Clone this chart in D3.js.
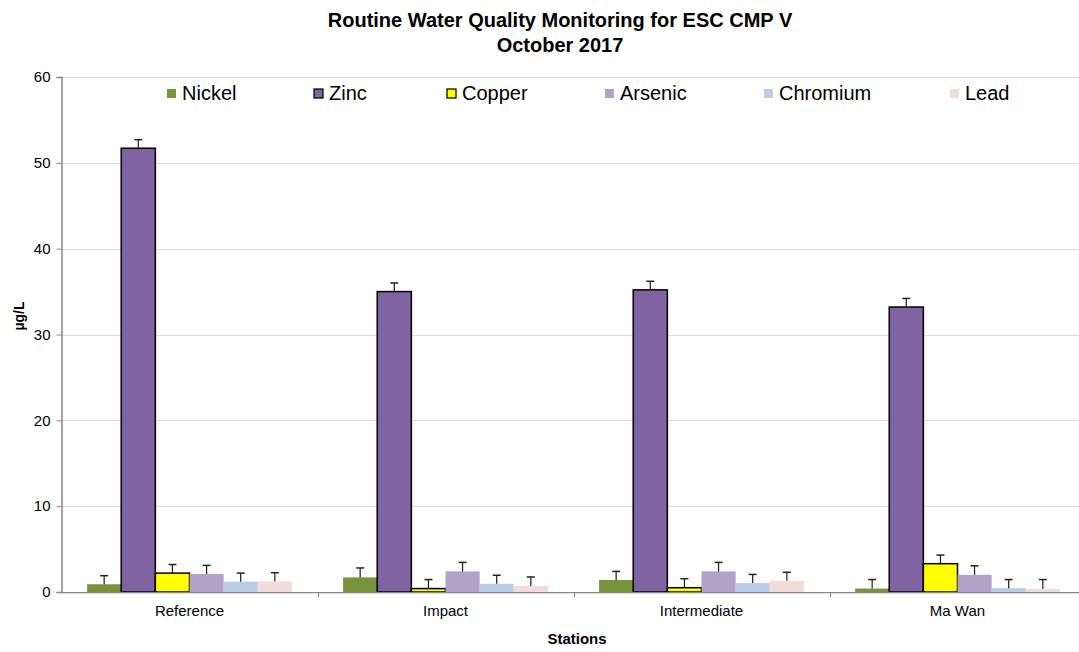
<!DOCTYPE html>
<html><head><meta charset="utf-8">
<script src="https://cdn.jsdelivr.net/npm/d3@7"></script>
<style>body{margin:0;background:#fff;}svg{display:block;font-family:"Liberation Sans",Arial,sans-serif;}</style>
</head><body>
<script>
const stations = ["Reference", "Impact", "Intermediate", "Ma Wan"];
const metals = ["Nickel", "Zinc", "Copper", "Arsenic", "Chromium", "Lead"];
const nickel   = [0.9, 1.7, 1.4, 0.4];
const zinc     = [51.7, 35.0, 35.2, 33.2];
const copper   = [2.2, 0.4, 0.5, 3.3];
const arsenic  = [2.1, 2.4, 2.4, 2.0];
const chromium = [1.2, 0.95, 1.05, 0.45];
const lead     = [1.25, 0.7, 1.3, 0.35];
const nickelErr   = [1.0, 1.1, 1.0, 1.05];
const zincErr     = [1.0, 1.0, 1.0, 1.0];
const copperErr   = [1.0, 1.05, 1.05, 1.0];
const arsenicErr  = [1.0, 1.05, 1.05, 1.05];
const chromiumErr = [1.0, 1.0, 1.0, 1.0];
const leadErr     = [1.0, 1.05, 1.0, 1.1];
const yTicks = [0, 10, 20, 30, 40, 50, 60];

const seriesValues = [nickel, zinc, copper, arsenic, chromium, lead];
const seriesErrors = [nickelErr, zincErr, copperErr, arsenicErr, chromiumErr, leadErr];
const fills = {Nickel:"#77933C", Zinc:"#8064A2", Copper:"#FFFF00", Arsenic:"#B3A2C7", Chromium:"#B9CDE5", Lead:"#F2DCDB"};
const outlined = {Zinc:true, Copper:true};

const W = 1079, H = 652;
const svg = d3.select("body").append("svg").attr("width", W).attr("height", H);

const y = d3.scaleLinear().domain([0, 60]).range([592, 77]);
const x0 = d3.scaleBand().domain(stations).range([61.5, 1085.5]).padding(0);
const x1 = d3.scaleBand().domain(metals).range([0, x0.bandwidth()]).paddingInner(0).paddingOuter(0.75);

// gridlines
svg.append("g").selectAll("line").data(yTicks.filter(d => d > 0)).join("line")
  .attr("x1", 61.5).attr("x2", W).attr("y1", d => Math.round(y(d)) + 0.5).attr("y2", d => Math.round(y(d)) + 0.5)
  .attr("stroke", "#D9D9D9").attr("stroke-width", 1);

// y axis
const yAxis = d3.axisLeft(y).tickValues(yTicks).tickSize(5).tickPadding(6).tickFormat(d3.format("d"));
const gy = svg.append("g").attr("transform", "translate(61.5,0)").call(yAxis);
gy.select(".domain").attr("stroke", "#868686").attr("stroke-width", 1.5);
gy.selectAll(".tick line").attr("stroke", "#868686");
gy.selectAll(".tick text").attr("font-size", 15).attr("fill", "#000").attr("font-family", "Liberation Sans, Arial, sans-serif");

// bars
const groups = svg.append("g").selectAll("g").data(stations).join("g")
  .attr("transform", d => `translate(${x0(d)},0)`);
metals.forEach((m, mi) => {
  groups.append("rect")
    .attr("x", (d, i) => x1(m))
    .attr("y", (d, i) => y(seriesValues[mi][i]))
    .attr("width", x1.bandwidth())
    .attr("height", (d, i) => y(0) - y(seriesValues[mi][i]))
    .attr("fill", fills[m])
    .attr("stroke", outlined[m] ? "#000" : "none")
    .attr("stroke-width", outlined[m] ? 1.5 : 0);
});
// error bars
metals.forEach((m, mi) => {
  groups.each(function(d, i) {
    const g = d3.select(this);
    const cx = x1(m) + x1.bandwidth() / 2;
    const v = seriesValues[mi][i], e = seriesErrors[mi][i];
    g.append("line").attr("x1", cx).attr("x2", cx).attr("y1", y(v)).attr("y2", y(v + e))
      .attr("stroke", "#222").attr("stroke-width", 1.25);
    g.append("line").attr("x1", cx - 4).attr("x2", cx + 4).attr("y1", y(v + e)).attr("y2", y(v + e))
      .attr("stroke", "#222").attr("stroke-width", 1.5);
  });
});

// x axis
const xAxisG = svg.append("g").attr("transform", "translate(0,592.5)");
xAxisG.append("line").attr("x1", 61.5).attr("x2", W).attr("y1", 0).attr("y2", 0).attr("stroke", "#868686").attr("stroke-width", 1.25);
xAxisG.selectAll(".tk").data(stations.slice(1)).join("line").attr("class", "tk")
  .attr("x1", d => Math.round(x0(d)) + 0.5).attr("x2", d => Math.round(x0(d)) + 0.5).attr("y1", 0).attr("y2", 5)
  .attr("stroke", "#868686");
xAxisG.selectAll("text").data(stations).join("text")
  .attr("x", d => x0(d) + x0.bandwidth() / 2).attr("y", 23)
  .attr("text-anchor", "middle").attr("font-size", 15).text(d => d);

// titles
svg.append("text").attr("x", 560).attr("y", 27).attr("text-anchor", "middle")
  .attr("font-size", 20).attr("font-weight", "bold").text("Routine Water Quality Monitoring for ESC CMP V");
svg.append("text").attr("x", 560).attr("y", 52).attr("text-anchor", "middle")
  .attr("font-size", 20).attr("font-weight", "bold").text("October 2017");
svg.append("text").attr("x", 577).attr("y", 644).attr("text-anchor", "middle")
  .attr("font-size", 15).attr("font-weight", "bold").text("Stations");
svg.append("text").attr("transform", "translate(24,316) rotate(-90)").attr("text-anchor", "middle")
  .attr("font-size", 14).attr("font-weight", "bold").text("µg/L");

// legend
const legendX = [167, 314, 447, 605, 764, 950];
const lg = svg.append("g").selectAll("g").data(metals).join("g")
  .attr("transform", (d, i) => `translate(${legendX[i]},89)`);
lg.append("rect").attr("x", 0).attr("y", 0).attr("width", 9).attr("height", 9)
  .attr("fill", d => fills[d]).attr("stroke", d => outlined[d] ? "#000" : "none").attr("stroke-width", 1.25);
lg.append("text").attr("x", 15).attr("y", 11).attr("font-size", 20).text(d => d);
</script>
</body></html>
